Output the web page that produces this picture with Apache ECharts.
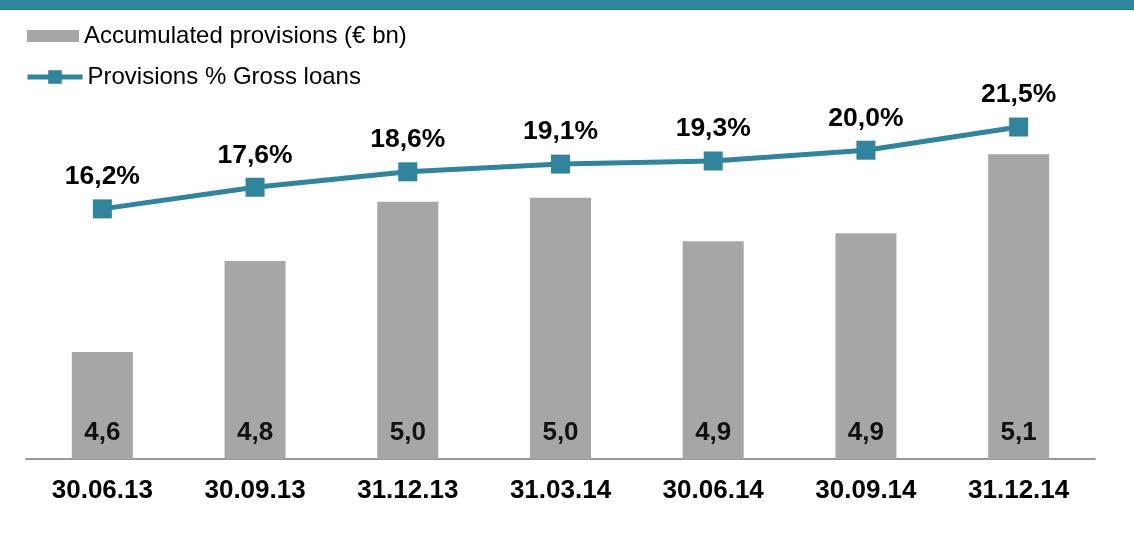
<!DOCTYPE html>
<html>
<head>
<meta charset="utf-8">
<script src="https://cdn.jsdelivr.net/npm/echarts@6/dist/echarts.min.js"></script>
<style>
  html, body { margin: 0; padding: 0; background: #fff; }
  #band { position: absolute; left: 0; top: 0; width: 1134px; height: 10px; background: #31849b; }
  #chart { width: 1134px; height: 534px; }
</style>
</head>
<body>
<div id="band"></div>
<div id="chart"></div>
<script>
// Quarter-end dates
const categories = ['30.06.13', '30.09.13', '31.12.13', '31.03.14', '30.06.14', '30.09.14', '31.12.14'];
// Accumulated provisions, € bn
const provisions = [4.60, 4.83, 4.98, 4.99, 4.88, 4.90, 5.10];
// Provisions as % of gross loans
const provisionsPct = [16.2, 17.6, 18.6, 19.1, 19.3, 20.0, 21.5];

const FONT = '"Liberation Sans", Arial, sans-serif';
const TEAL = '#31849b';
const GREY = '#a6a6a6';
const fmt = (v, d) => v.toFixed(d).replace('.', ',');

const chart = echarts.init(document.getElementById('chart'), null, { renderer: 'canvas' });
chart.setOption({
  animation: false,
  backgroundColor: 'transparent',
  grid: { left: 26, right: 39, top: 73, bottom: 75, containLabel: false },
  legend: [
    {
      data: [{ name: 'Accumulated provisions (€ bn)', icon: 'rect' }],
      left: 27, top: 24, padding: 0,
      itemWidth: 52, itemHeight: 12, itemGap: 0,
      textStyle: { fontFamily: FONT, fontSize: 24, color: '#000' }
    },
    {
      data: ['Provisions % Gross loans'],
      left: 25, top: 65, padding: 0,
      itemWidth: 55, itemHeight: 17, itemGap: 0,
      lineStyle: { width: 5, color: TEAL },
      textStyle: { fontFamily: FONT, fontSize: 24, color: '#000' }
    }
  ],
  xAxis: {
    type: 'category',
    data: categories,
    axisLine: { lineStyle: { color: '#999', width: 2 } },
    axisTick: { show: false },
    axisLabel: { fontFamily: FONT, fontSize: 26, fontWeight: 'bold', color: '#000', margin: 19 }
  },
  yAxis: [
    { type: 'value', min: 4.33, max: 5.305, show: false, splitLine: { show: false } },
    { type: 'value', min: 0, max: 25, show: false, splitLine: { show: false } }
  ],
  series: [
    {
      name: 'Accumulated provisions (€ bn)',
      type: 'bar',
      yAxisIndex: 0,
      data: provisions,
      barWidth: 61,
      itemStyle: { color: GREY },
      label: {
        show: true,
        position: 'insideBottom',
        distance: 13,
        fontFamily: FONT, fontSize: 26, fontWeight: 'bold', color: '#111',
        formatter: p => fmt(p.value, 1)
      }
    },
    {
      name: 'Provisions % Gross loans',
      type: 'line',
      yAxisIndex: 1,
      data: provisionsPct,
      symbol: 'rect',
      symbolSize: 19,
      lineStyle: { color: TEAL, width: 5 },
      itemStyle: { color: TEAL },
      label: {
        show: true,
        position: 'top',
        distance: 9,
        fontFamily: FONT, fontSize: 26.5, fontWeight: 'bold', color: '#000',
        formatter: p => fmt(p.value, 1) + '%'
      }
    }
  ]
});
</script>
</body>
</html>
